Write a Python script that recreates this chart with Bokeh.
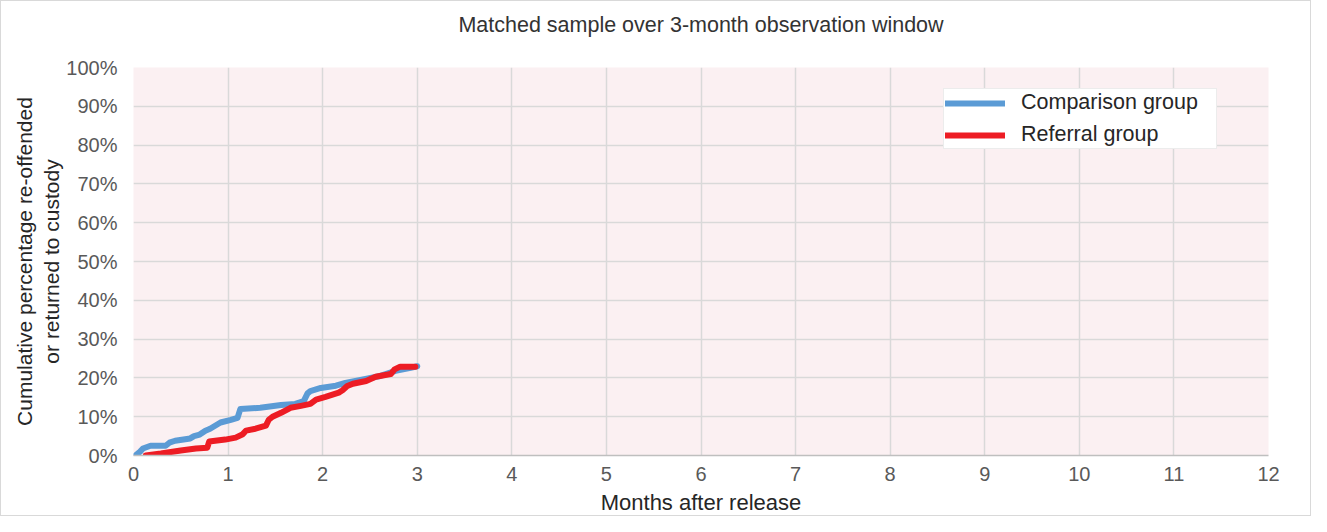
from bokeh.plotting import figure
from bokeh.models import Range1d, PrintfTickFormatter, FixedTicker, Legend, LegendItem, Title
from bokeh.embed import file_html
from bokeh.resources import INLINE

# Comparison group (months, cumulative %)
comp_months = [0.02, 0.07, 0.10, 0.18, 0.34, 0.38, 0.44, 0.60, 0.64, 0.70, 0.76, 0.81, 0.92, 1.03, 1.10,
               1.13, 1.34, 1.56, 1.71, 1.80, 1.84, 1.87, 1.98, 2.14, 2.24, 2.40, 2.61, 2.77, 2.93, 3.00]
comp_pct = [0.0, 1.0, 1.8, 2.5, 2.5, 3.3, 3.8, 4.4, 5.0, 5.4, 6.4, 6.9, 8.5, 9.2, 9.7,
            12.0, 12.3, 13.0, 13.3, 14.0, 16.0, 16.6, 17.4, 18.0, 18.7, 19.5, 20.5, 21.8, 22.6, 23.0]

# Referral group
ref_months = [0.13, 0.29, 0.50, 0.66, 0.78, 0.80, 0.97, 1.08, 1.15, 1.19, 1.29, 1.40, 1.43, 1.47, 1.56,
              1.66, 1.77, 1.87, 1.93, 2.03, 2.17, 2.21, 2.26, 2.32, 2.46, 2.56, 2.72, 2.76, 2.82, 2.98]
ref_pct = [0.0, 0.5, 1.3, 1.8, 2.0, 3.6, 4.1, 4.6, 5.4, 6.4, 6.9, 7.7, 9.2, 10.0, 11.0,
           12.3, 12.8, 13.3, 14.4, 15.1, 16.2, 16.8, 17.9, 18.5, 19.2, 20.3, 21.0, 22.2, 22.9, 22.9]

x_ticks = list(range(0, 13))
y_ticks = list(range(0, 101, 10))
title_text = "Matched sample over 3-month observation window"

FONT = "Liberation Sans"

p = figure(width=1311, height=516, output_backend="svg", toolbar_location=None,
           x_range=Range1d(0, 12), y_range=Range1d(0, 100),
           min_border_left=132, min_border_right=44, min_border_top=66, min_border_bottom=59)
p.styles = {"border": "1px solid #d9d9d9"}

# spacer between frame and title
spacer = Title(text=" ", text_font=FONT, text_font_size="19px", standoff=5)
p.add_layout(spacer, "above")
main_title = Title(text=title_text, align="center", text_font=FONT, text_font_size="21.5px",
                   text_font_style="normal", text_color="#333333", standoff=6)
p.add_layout(main_title, "above")

p.background_fill_color = "#FBF0F2"
p.border_fill_color = "white"
p.outline_line_color = None

p.xaxis.ticker = FixedTicker(ticks=x_ticks)
p.yaxis.ticker = FixedTicker(ticks=y_ticks)
p.yaxis.formatter = PrintfTickFormatter(format="%d%%")

for ax in (p.xaxis, p.yaxis):
    ax.major_label_text_font = FONT
    ax.major_label_text_font_size = "20px"
    ax.major_label_text_color = "#595959"
    ax.major_tick_line_color = None
    ax.minor_tick_line_color = None
    ax.axis_label_text_font = FONT
    ax.axis_label_text_font_style = "normal"
    ax.axis_label_text_color = "#262626"

p.xaxis.axis_label_text_font_size = "22px"
p.yaxis.axis_label_text_font_size = "21px"
p.xaxis.axis_line_color = "#BFBFBF"
p.xaxis.axis_line_width = 1.5
p.yaxis.axis_line_color = None
p.xaxis.major_label_standoff = 5
p.yaxis.major_label_standoff = 10
p.xaxis.axis_label = "Months after release"
p.xaxis.axis_label_standoff = 6
p.yaxis.axis_label = "Cumulative percentage re-offended\nor returned to custody"
p.yaxis.axis_label_standoff = 0

p.xgrid.grid_line_color = "#D9D9D9"
p.ygrid.grid_line_color = "#D9D9D9"
p.xgrid.grid_line_width = 1.5
p.ygrid.grid_line_width = 1.5

r1 = p.line(comp_months, comp_pct, line_color="#5B9BD5", line_width=6, line_join="round", line_cap="round")
r2 = p.line(ref_months, ref_pct, line_color="#ED1C24", line_width=6, line_join="round", line_cap="round")

legend = Legend(items=[LegendItem(label="Comparison group", renderers=[r1]),
                       LegendItem(label="Referral group", renderers=[r2])],
                location=(810, 306))
legend.label_text_font = FONT
legend.label_text_font_size = "21.5px"
legend.label_text_color = "#262626"
legend.glyph_width = 60
legend.glyph_height = 20
legend.label_height = 20
legend.label_width = 194
legend.spacing = 7
legend.padding = 1
legend.margin = 0
legend.label_standoff = 16
legend.border_line_color = "#D9D9D9"
legend.border_line_width = 1.5
legend.background_fill_color = "white"
legend.background_fill_alpha = 1.0
p.add_layout(legend, "center")

open("out.html", "w").write(file_html(p, INLINE))
